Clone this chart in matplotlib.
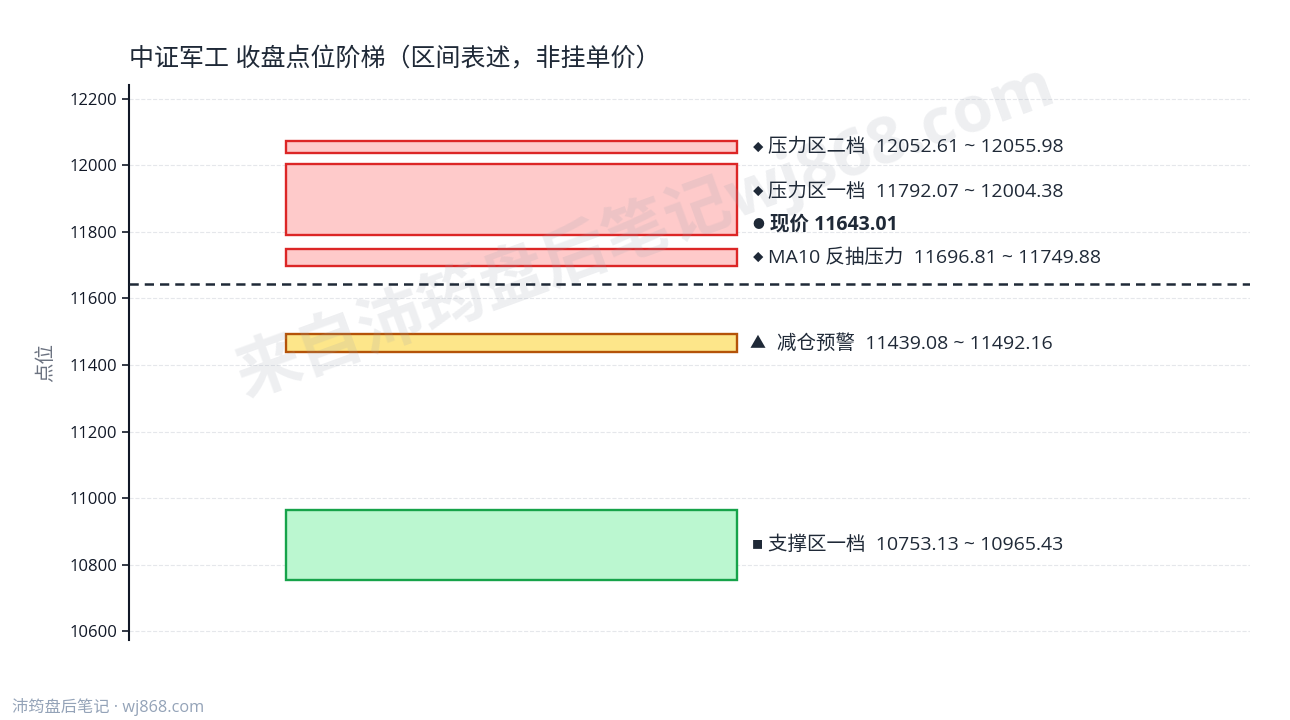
import matplotlib
matplotlib.use("Agg")
import matplotlib.pyplot as plt
from matplotlib.patches import Rectangle

plt.rcParams['font.family'] = ['Open Sans', 'Noto Sans CJK SC', 'DejaVu Sans']
plt.rcParams['axes.unicode_minus'] = False

# 数据
zone_names = ["压力区二档", "压力区一档", "MA10 反抽压力", "减仓预警", "支撑区一档"]
zone_low = [12052.61, 11792.07, 11696.81, 11439.08, 10753.13]
zone_high = [12055.98, 12004.38, 11749.88, 11492.16, 10965.43]
zone_kind = ["press", "press", "press", "warn", "support"]
zone_mark = ["◆", "◆", "◆", "▲", "■"]
price_now = 11643.01
ytick_vals = [10600, 10800, 11000, 11200, 11400, 11600, 11800, 12000, 12200]

face = {"press": "#fecaca", "warn": "#fde68a", "support": "#bbf7d0"}
edge = {"press": "#dc2626", "warn": "#b45309", "support": "#16a34a"}
# 符号字号 / 文字偏移(pt)
mark_size = {"◆": 7.5, "●": 8.5, "▲": 11.5, "■": 8}
mark_gap = {"◆": 7.5, "●": 8.5, "▲": 14, "■": 7.5}
txt_color = "#1f2937"

fig = plt.figure(figsize=(12.9, 7.2), dpi=100)
ax = fig.add_axes([0.1, 0.111, 0.869, 0.771])

x0, x1 = 0.14, 0.5425
min_h = 36
labels = []
for name, lo, hi, kind, mk in zip(zone_names, zone_low, zone_high, zone_kind, zone_mark):
    c = (lo + hi) / 2
    h = hi - lo
    if h < min_h:
        ax.add_patch(Rectangle((x0, c - min_h / 2), x1 - x0, min_h, facecolor=face[kind],
                               edgecolor=edge[kind], linewidth=1.7, zorder=3))
    else:
        ax.add_patch(Rectangle((x0, lo), x1 - x0, h, facecolor=face[kind],
                               edgecolor=edge[kind], linewidth=1.7, zorder=3))
    labels.append([c, mk, f"{name}  {lo:.2f} ~ {hi:.2f}", "normal"])

ax.axhline(price_now, color=txt_color, linestyle=(0, (3.7, 2.4)), linewidth=1.8, zorder=4)

# 标签避让: 自下而上排, 现价标签插在其上方最近一档之后
labels.sort(key=lambda r: r[0])
idx = next(i for i, r in enumerate(labels) if r[0] > price_now) + 1
labels.insert(idx, [price_now, "●", f"现价 {price_now:.2f}", "bold"])
gap = 99
ys = []
for r in labels:
    y = r[0] if not ys else max(r[0], ys[-1] + gap)
    ys.append(y)

lx = 0.561
for (pref, mk, s, fw), y in zip(labels, ys):
    ax.text(lx, y, mk, fontsize=mark_size[mk], family=['Noto Sans CJK SC'],
            color=txt_color, ha="center", va="center", zorder=5)
    ax.annotate(s, (lx, y), xytext=(mark_gap[mk], 0), textcoords="offset points",
                fontsize=14, fontweight=fw, color=txt_color, ha="left",
                va="center", zorder=5)

ax.set_xlim(0, 1)
ax.set_ylim(10573, 12242)
ax.set_yticks(ytick_vals)
ax.set_yticklabels([str(v) for v in ytick_vals], fontsize=12, color="#111827")
ax.set_xticks([])
ax.tick_params(axis="y", length=5, width=1.2, color="#111827")
ax.yaxis.grid(True, color="#e5e7eb", linestyle="--", linewidth=0.8)
ax.set_axisbelow(True)
for s in ["top", "right", "bottom"]:
    ax.spines[s].set_visible(False)
ax.spines["left"].set_linewidth(1.5)
ax.spines["left"].set_color("#111827")
ax.set_ylabel("点位", fontsize=14, color="#6b7280", labelpad=10)

ax.set_title("中证军工 收盘点位阶梯（区间表述，非挂单价）", loc="left",
             fontsize=18, color=txt_color, pad=13)

# 水印
ax.text(0.5, 0.68, "来自沛筠盘后笔记wj868.com", transform=fig.transFigure,
        fontsize=47, fontweight="bold", color="#9ca3af", alpha=0.17, rotation=20,
        ha="center", va="center", zorder=3.5, clip_on=False)
fig.text(0.009, 0.018, "沛筠盘后笔记 · wj868.com", fontsize=11.7, color="#94a3b8",
         ha="left", va="center")

plt.savefig("out.png", dpi=100)
